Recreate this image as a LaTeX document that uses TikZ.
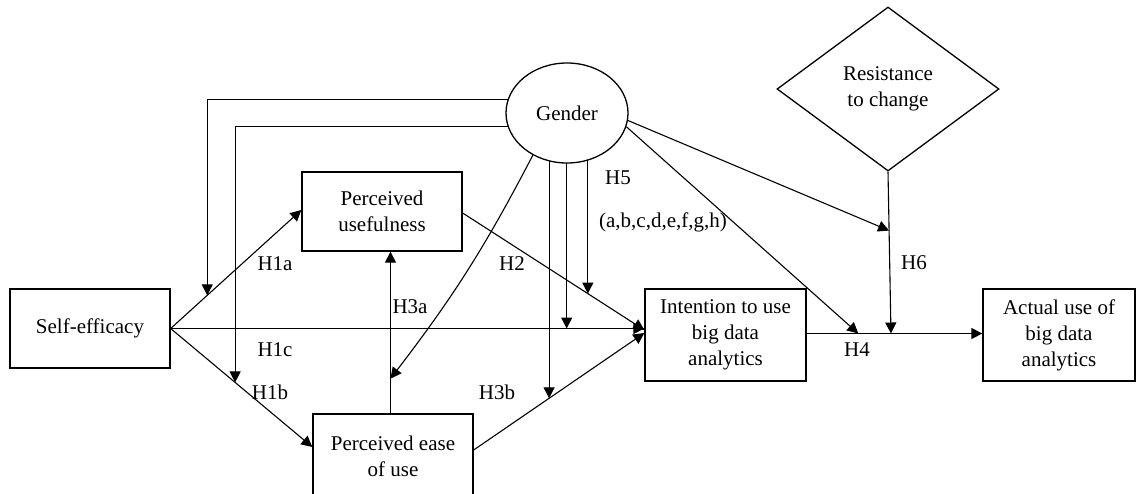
\documentclass[tikz,border=0pt]{standalone}
\usepackage{fontspec}
\setmainfont{Liberation Serif}
\usetikzlibrary{shapes.geometric,arrows.meta,backgrounds}
\begin{document}
\begin{tikzpicture}[x=1pt,y=-1pt,
  every node/.style={font=\fontsize{21}{26}\selectfont},
  box/.style={draw, line width=1.3pt, align=center, inner sep=0pt},
  arr/.style={line width=1.1pt, -{Triangle[length=11pt,width=11pt]}},
  lbl/.style={inner sep=0pt}]
\useasboundingbox (0,0) rectangle (1137,493);
% nodes
\node[box, minimum width=160pt, minimum height=79pt] (se) at (90,328.5) {Self-efficacy};
\node[box, minimum width=160pt, minimum height=79pt] (pu) at (382,211.5) {Perceived\\usefulness};
\node[box, minimum width=160pt, minimum height=84pt] (peou) at (393,456) {Perceived ease\\of use};
\node[box, minimum width=161pt, minimum height=92pt] (iu) at (725.5,335) {Intention to use\\big data\\analytics};
\node[box, minimum width=152pt, minimum height=92pt] (au) at (1059,335) {Actual use of\\big data\\analytics};
\node[draw, ellipse, line width=1.3pt, fill=white, minimum width=122pt, minimum height=100pt, inner sep=0pt] (gender) at (567,113) {Gender};
\node[draw, diamond, line width=1.3pt, minimum width=222pt, minimum height=164pt, inner sep=0pt, align=center] (rc) at (888,89) {Resistance\\to change};
% main paths
\draw[arr] (se.east) -- coordinate[pos=0.28] (j1) ([yshift=1.5pt]pu.west);
\draw[arr] (se.east) -- coordinate[pos=0.455] (j2) ([yshift=9pt]peou.west);
\draw[arr] (se.east) -- coordinate[pos=0.836] (j3) (se.east -| iu.west);
\draw[arr] ([yshift=-1.5pt]pu.east) -- coordinate[pos=0.689] (j4) ([yshift=5pt]iu.west);
\draw[arr] ([yshift=6pt]peou.east) -- coordinate[pos=0.442] (j5) ([yshift=2pt]iu.west);
\draw[arr] ([xshift=-2.5pt]peou.north) -- coordinate[pos=0.215] (j6) ([xshift=-2.5pt]peou.north |- pu.south);
\draw[arr] ([yshift=1.5pt]iu.east) -- coordinate[pos=0.294] (j7) coordinate[pos=0.48] (j8) ([yshift=1.5pt]iu.east -| au.west);
\draw[arr] (rc.south) -- coordinate[pos=0.364] (j9) (j8);
% gender moderation
\draw[arr] (gender.167) -- (gender.167 -| j1) -- (j1);
\draw[arr] (gender.193) -- (gender.193 -| j2) -- (j2);
\begin{scope}[on background layer]
\draw[arr] (gender.center -| j5) -- (j5);
\draw[arr] (gender.center -| j3) -- (j3);
\draw[arr] (gender.center -| j4) -- (j4);
\end{scope}
\draw[arr] (gender.231) to[bend left=5] (j6);
\draw[arr] (gender.-13) -- (j7);
\draw[arr] (gender.-7) -- (j9);
% labels
\node[lbl] (h1a) at (275,264) {H1a};
\node[lbl] (h1c) at (275,350) {H1c};
\node[lbl] (h1b) at (270,392) {H1b};
\node[lbl] (h3a) at (410,307) {H3a};
\node[lbl] (h2) at (512,264) {H2};
\node[lbl] (h3b) at (497,392) {H3b};
\node[lbl] (h5) at (618,178) {H5};
\node[lbl] (h5b) at (663,222) {(a,b,c,d,e,f,g,h)};
\node[lbl] (h6) at (914,263) {H6};
\node[lbl] (h4) at (857,350) {H4};
\end{tikzpicture}
\end{document}
